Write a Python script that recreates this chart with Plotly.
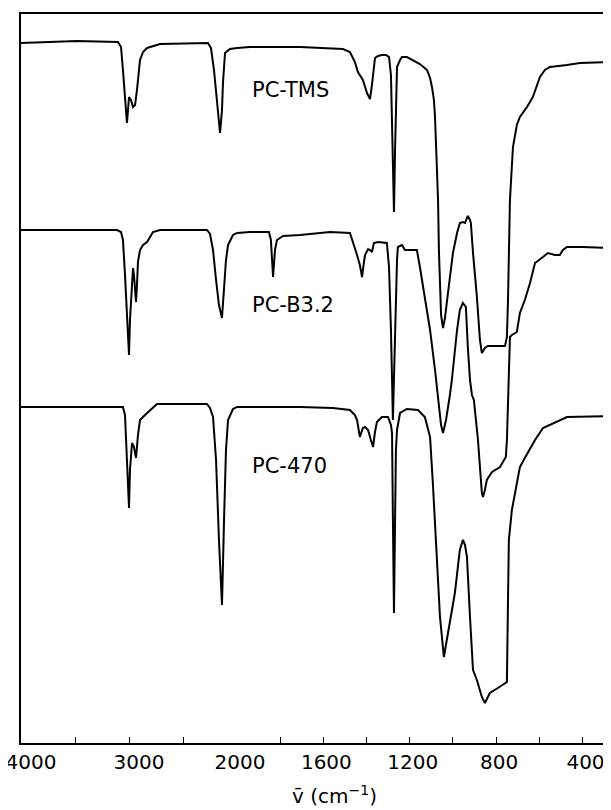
import plotly.graph_objects as go

# ---------------- data (wavenumber in cm-1, transmittance in arbitrary offset units) -------------
tms_nu = [4000, 3481, 3102, 3074, 3056, 3037, 3019, 3009, 3000, 2982, 2963, 2944, 2926, 2898, 2870,
          2833, 2713, 2269, 2241, 2213, 2185, 2157, 2139, 2130, 2111, 2065, 2000,
          1940, 1708, 1509, 1477, 1454, 1440, 1431, 1417, 1398, 1384, 1375, 1361, 1347, 1329, 1310,
          1296, 1287, 1278, 1273, 1268, 1264, 1259, 1245, 1236, 1213, 1185, 1153, 1120, 1106, 1097,
          1088, 1083, 1074, 1069, 1065, 1060, 1055, 1046, 1037, 1023, 1000, 981, 968, 954, 944, 935,
          931, 921, 917, 907, 889, 875, 866, 852, 838, 759, 750, 745, 741, 736, 722, 704, 690, 657,
          630, 611, 597, 574, 551, 472, 412, 268]
tms_val = [700, 702, 701, 696, 673, 643, 620, 633, 646, 643, 636, 638, 653, 683, 691,
           695, 699, 700, 695, 673, 638, 610, 633, 660, 690, 694, 695,
           696, 696, 694, 691, 681, 671, 668, 663, 650, 644, 658, 685, 687, 688, 688,
           686, 668, 593, 531, 593, 653, 676, 683, 686, 686, 683, 679, 673, 665, 656,
           643, 626, 583, 543, 493, 453, 428, 415, 425, 450, 490, 510, 520, 521, 520, 525,
           527, 523, 520, 490, 446, 403, 390, 395, 397, 397, 406, 443, 493, 543, 596, 618, 626, 636,
           646, 658, 666, 673, 676, 678, 680, 681]

b32_nu = [4000, 3111, 3074, 3056, 3037, 3019, 3000, 2991, 2972, 2963, 2954, 2935, 2926, 2917, 2898,
          2870, 2833, 2806, 2778, 2713, 2278, 2250, 2222, 2194, 2167, 2139, 2120, 2102, 2083, 2037, 2000,
          1940, 1852, 1843, 1833, 1824, 1815, 1787, 1708, 1616, 1569, 1477, 1454, 1444, 1431, 1421,
          1412, 1407, 1393, 1384, 1375, 1366, 1347, 1306, 1296, 1287, 1278, 1268, 1264, 1259, 1255,
          1236, 1222, 1167, 1153, 1130, 1106, 1083, 1069, 1055, 1046, 1032, 1014, 1005, 981, 968, 954,
          940, 931, 921, 912, 903, 884, 866, 861, 852, 843, 819, 782, 755, 750, 745, 741, 736, 727,
          704, 690, 667, 643, 620, 583, 560, 528, 505, 491, 472, 398, 268]
b32_val = [513, 513, 511, 503, 468, 423, 388, 423, 463, 475, 468, 441, 458, 481, 493,
           498, 501, 506, 511, 513, 513, 509, 493, 463, 438, 425, 453, 483, 498, 508, 510,
           511, 511, 503, 466, 493, 503, 507, 508, 510, 511, 510, 496, 488, 478, 466,
           481, 488, 494, 493, 491, 500, 501, 500, 476, 413, 323, 413, 453, 483, 496,
           498, 493, 493, 476, 446, 413, 373, 343, 318, 310, 323, 348, 363, 413, 433, 440,
           436, 396, 363, 348, 343, 303, 250, 246, 253, 263, 271, 276, 286, 303, 343, 383, 406, 408,
           411, 430, 443, 460, 480, 486, 490, 488, 488, 493, 496, 496, 495]

p470_nu = [4000, 3056, 3037, 3019, 3000, 2991, 2972, 2954, 2935, 2917, 2898, 2852, 2806, 2741, 2278,
           2250, 2222, 2194, 2167, 2139, 2120, 2102, 2083, 2037, 2000,
           1708, 1556, 1477, 1454, 1444, 1431, 1417, 1407, 1393, 1380, 1370, 1361, 1352, 1329, 1301,
           1287, 1282, 1278, 1273, 1268, 1264, 1259, 1245, 1213, 1162, 1130, 1106, 1093, 1074, 1060,
           1042, 1028, 1014, 991, 968, 954, 944, 935, 921, 907, 889, 866, 852, 829, 792, 750, 745,
           741, 727, 713, 690, 667, 620, 583, 518, 472, 268]
p470_val = [336, 336, 328, 283, 235, 273, 300, 296, 285, 308, 323, 328, 333, 339, 339,
            335, 326, 283, 203, 138, 223, 293, 323, 334, 336,
            336, 335, 333, 328, 323, 306, 315, 316, 313, 303, 296, 311, 321, 326, 326,
            318, 310, 223, 130, 223, 293, 313, 330, 334, 333, 326, 306, 260, 176, 126,
            86, 103, 120, 150, 193, 203, 198, 186, 126, 73, 63, 46, 40, 50, 55, 61, 143,
            203, 233, 250, 276, 285, 303, 315, 321, 326, 327]

series_names = ["PC-TMS", "PC-B3.2", "PC-470"]
label_y = [653, 438, 277]

left_ticks = [4000, 3500, 3000, 2500]
left_text = ["4000", "", "3000", ""]
right_ticks = [2000, 1800, 1600, 1400, 1200, 1000, 800, 600, 400, 300]
right_text = ["2000", "", "1600", "", "1200", "", "800", "", "400", ""]

# ---------------- figure ----------------
FONT = "DejaVu Sans"
fig = go.Figure()
line = dict(color="black", width=2)

for nu, val in [(tms_nu, tms_val), (b32_nu, b32_val), (p470_nu, p470_val)]:
    lx = [n for n in nu if n >= 2000]
    ly = [v for n, v in zip(nu, val) if n >= 2000]
    rx = [n for n in nu if n <= 2000]
    ry = [v for n, v in zip(nu, val) if n <= 2000]
    fig.add_trace(go.Scatter(x=lx, y=ly, xaxis="x", yaxis="y", mode="lines", line=line,
                             showlegend=False, hoverinfo="skip"))
    fig.add_trace(go.Scatter(x=rx, y=ry, xaxis="x2", yaxis="y", mode="lines", line=line,
                             showlegend=False, hoverinfo="skip"))

for name, yv in zip(series_names, label_y):
    fig.add_annotation(x=1940, y=yv, xref="x2", yref="y", text=name, showarrow=False,
                       xanchor="left", yanchor="middle",
                       font=dict(family=FONT, size=21, color="black"))

fig.add_annotation(x=0.532, y=-0.072, xref="paper", yref="paper",
                   text="v\u0304 (cm<sup>\u22121</sup>)", showarrow=False,
                   xanchor="center", yanchor="middle",
                   font=dict(family=FONT, size=20, color="black"))

split = 216 / 590
axis_common = dict(showline=True, linecolor="black", linewidth=1.5, mirror=True,
                   ticks="inside", ticklen=6, tickwidth=1.2, tickcolor="black",
                   showgrid=False, zeroline=False, anchor="y", automargin=False,
                   ticklabeloverflow="allow",
                   tickfont=dict(family=FONT, size=20, color="black"))

fig.update_layout(
    template="none",
    width=603, height=802,
    margin=dict(l=13, r=0, t=6, b=67, autoexpand=False),
    paper_bgcolor="white", plot_bgcolor="white",
    xaxis=dict(domain=[0, split], range=[4000, 2000], tickvals=left_ticks, ticktext=left_text,
               ticklabelshift=-10, **axis_common),
    xaxis2=dict(domain=[split, 1], range=[2000, 268], tickvals=right_ticks, ticktext=right_text,
                ticklabelshift=-3, **axis_common),
    yaxis=dict(domain=[0, 1], range=[0, 729], showline=True, linecolor="black", linewidth=1.5,
               showticklabels=False, ticks="", showgrid=False, zeroline=False, anchor="x",
               automargin=False),
)

fig.write_html("out.html")
